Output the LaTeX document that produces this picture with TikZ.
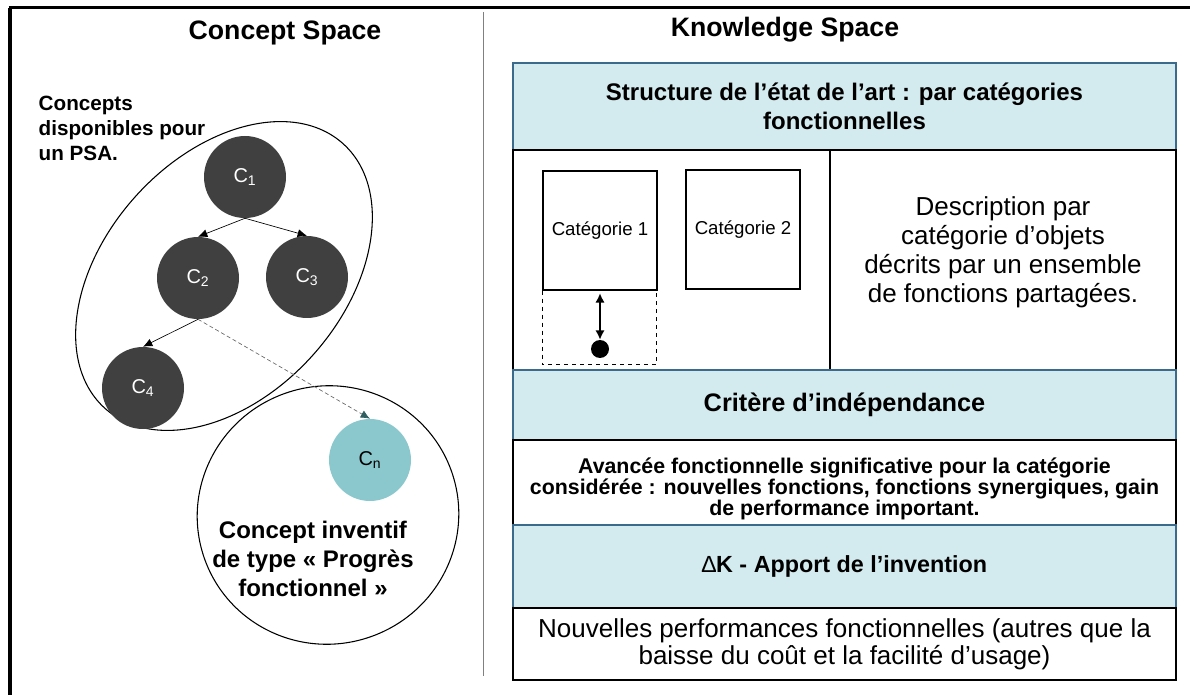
\documentclass[tikz,border=0pt]{standalone}
\usepackage{fontspec}
\setmainfont{Liberation Sans}
\usetikzlibrary{arrows.meta,positioning}

\definecolor{hdrblue}{HTML}{D3EBEE}
\definecolor{hdrline}{HTML}{3A6A8C}
\definecolor{cdark}{HTML}{404040}
\definecolor{cteal}{HTML}{8AC8CD}
\definecolor{tipteal}{HTML}{2E5E60}

\tikzset{
  concept/.style={circle, fill=cdark, minimum size=61.5pt, inner sep=0pt, text=white, font=\fontsize{15}{17}\selectfont},
  hdrbox/.style={draw=hdrline, line width=1pt, fill=hdrblue, minimum width=497.25pt, inner sep=0pt, align=center, font=\bfseries\fontsize{18}{21.75}\selectfont},
  txtbox/.style={draw=black, line width=1pt, fill=white, minimum width=497.25pt, inner sep=0pt, align=center},
  catbox/.style={draw, line width=0.8pt, minimum width=85.5pt, minimum height=89.25pt, inner sep=0pt, font=\fontsize{14}{16}\selectfont},
  link/.style={-{Latex[length=7pt,width=6pt]}, line width=0.5pt}
}

\begin{document}
\begin{tikzpicture}[x=0.75pt, y=-0.75pt]
    \useasboundingbox (0,0) rectangle (1190,695);

    % Frame and divider
    \draw[line width=3pt] (10,695) -- (10,8);
    \draw[line width=2.25pt] (8.5,8) -- (1190,8);
    \draw[gray, line width=0.75pt] (483,12) -- (483,676);

    % Titles
    \node[font=\bfseries\fontsize{20}{24}\selectfont] (cstitle) at (285,33) {Concept Space};
    \node[font=\bfseries\fontsize{20}{24}\selectfont] (kstitle) at (785,30) {Knowledge Space};

    % Concept space: the two ellipses
    \draw[line width=0.8pt, rotate around={48:(224,276)}] (224,276) ellipse [x radius=178, y radius=119];
    \draw[line width=0.8pt, rotate around={20:(328,515)}] (328,515) ellipse [x radius=131, y radius=129];
    \node[anchor=west, align=left, font=\bfseries\fontsize{15.5}{18.75}\selectfont] (psa) at (34,128) {Concepts\\disponibles pour\\un PSA.};

    % Concepts
    \node[concept] (c1) at (245,177) {C\textsubscript{1}};
    \node[concept] (c2) at (198,278) {C\textsubscript{2}};
    \node[concept] (c3) at (307,277) {C\textsubscript{3}};
    \node[concept] (c4) at (143,388) {C\textsubscript{4}};
    \node[concept, fill=cteal, text=black] (cn) at (370,460) {C\textsubscript{n}};
    \draw[link] (c1.south) -- (c2.north);
    \draw[link] (c1.south) -- (c3.north);
    \draw[link] (c2.south) -- (c4.north);
    \draw[densely dashed, gray!80!black, line width=0.5pt, -{Latex[length=7pt,width=6pt,color=tipteal]}] (c2.south) -- (cn.north);
    \node[align=center, font=\bfseries\fontsize{18}{21.75}\selectfont] (inventif) at (313,559) {Concept inventif\\de type « Progrès\\fonctionnel »};

    % Knowledge space: stacked boxes
    \node[hdrbox, minimum height=65.25pt] (struct) at (844.5,106.5) {Structure de l’état de l’art : par catégories\\fonctionnelles};
    \node[txtbox, minimum width=237.75pt, minimum height=165pt] (catzone) at (671.5,260) {};
    \node[txtbox, minimum width=259.5pt, minimum height=165pt, text depth=15pt, font=\fontsize{19.5}{21.75}\selectfont] (descr) at (1003,260) {Description par\\catégorie d’objets\\décrits par un ensemble\\de fonctions partagées.};
    \node[hdrbox, minimum height=52.5pt, font=\bfseries\fontsize{19}{22}\selectfont] (critere) at (844.5,405) {Critère d’indépendance};
    \node[txtbox, minimum height=63.75pt] (avancee) at (844.5,482.5) {};
    \node[align=center, font=\bfseries\fontsize{16}{16}\selectfont] (avanceetxt) at (844.5,489) {Avancée fonctionnelle significative pour la catégorie\\considérée : nouvelles fonctions, fonctions synergiques, gain\\de performance important.};
    \node[hdrbox, minimum height=62.25pt, font=\bfseries\fontsize{17.5}{21}\selectfont] (apport) at (844.5,566.5) {{\mdseries ∆}K - Apport de l’invention};
    \node[txtbox, minimum height=54pt, font=\fontsize{19.5}{20.25}\selectfont] (perf) at (844.5,644) {Nouvelles performances fonctionnelles (autres que la\\baisse du coût et la facilité d’usage)};

    % Categories
    \node[catbox] (cat1) at (600,230.5) {Catégorie 1};
    \node[catbox] (cat2) at (743,229.5) {Catégorie 2};
    \draw[dashed, line width=0.8pt] (cat1.south west) -- ++(0,74) -- ++(114,0) -- ++(0,-74);
    \node[circle, fill=black, minimum size=13.5pt, inner sep=0pt] (dot) at (600,349) {};
    \draw[{Latex[length=7pt,width=7pt]}-{Latex[length=7pt,width=7pt]}, line width=2.2pt, shorten <=2pt] (cat1.south) -- (dot.north);

\end{tikzpicture}
\end{document}
